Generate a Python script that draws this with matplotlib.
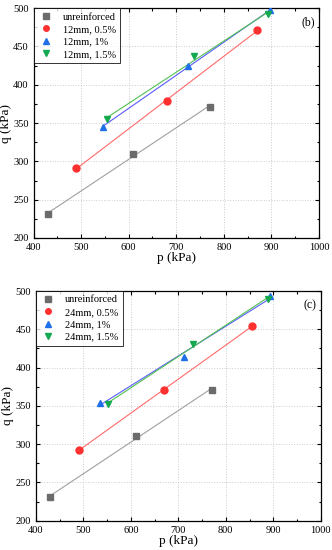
import numpy as np
import matplotlib
matplotlib.use("Agg")
import matplotlib.pyplot as plt
from matplotlib.ticker import MultipleLocator

plt.rcParams['font.family'] = ['Liberation Serif', 'DejaVu Serif']

# panel (b) - 12 mm fibres
p_unr = [430, 610, 770]
q_unr = [231, 310, 371]
p_12_05 = [490, 680, 870]
q_12_05 = [291, 379, 471]
p_12_10 = [545, 725, 897]
q_12_10 = [345, 424, 497]
p_12_15 = [555, 738, 893]
q_12_15 = [355, 437, 492]

# panel (c) - 24 mm fibres
p_24_05 = [490, 670, 855]
q_24_05 = [292, 371, 454]
p_24_10 = [535, 712, 893]
q_24_10 = [354, 414, 493]
p_24_15 = [552, 730, 888]
q_24_15 = [352, 431, 489]

labels_12 = ['unreinforced', '12mm, 0.5%', '12mm, 1%', '12mm, 1.5%']
labels_24 = ['unreinforced', '24mm, 0.5%', '24mm, 1%', '24mm, 1.5%']

markers = ['s', 'o', '^', 'v']
mcolors = ['#6b6b6b', '#ff3030', '#1f6fe8', '#14a850']
lcolors = ['#a0a0a0', '#ff6a6a', '#5a5aff', '#50c050']


def draw_panel(ax, series, labels, tag):
    for (p, q), lab, m, mc, lc in zip(series, labels, markers, mcolors, lcolors):
        p = np.array(p, dtype=float)
        q = np.array(q, dtype=float)
        ax.plot(p, q, ls='none', marker=m, ms=5, color=mc, label=lab, zorder=3)
        # linear fit
        k, b = np.polyfit(p, q, 1)
        xs = np.array([p.min(), p.max()])
        ax.plot(xs, k * xs + b, color=lc, lw=0.8, zorder=2)

    ax.set_xlim(400, 1000)
    ax.set_ylim(200, 500)
    ax.xaxis.set_major_locator(MultipleLocator(100))
    ax.xaxis.set_minor_locator(MultipleLocator(50))
    ax.yaxis.set_major_locator(MultipleLocator(50))
    ax.yaxis.set_minor_locator(MultipleLocator(25))
    ax.tick_params(which='both', direction='in', top=True, right=True,
                   labelsize=7.5, width=0.8)
    ax.tick_params(which='major', length=3)
    ax.tick_params(which='minor', length=1.8)
    ax.grid(True, which='major', ls=':', color='#cccccc', lw=0.7)
    for s in ax.spines.values():
        s.set_linewidth(0.9)
    ax.set_xlabel('p (kPa)', fontsize=9.5, labelpad=0)
    ax.set_ylabel('q (kPa)', fontsize=9.5, labelpad=1)
    ax.text(0.985, 0.965, tag, transform=ax.transAxes, ha='right', va='top',
            fontsize=8.5)
    leg = ax.legend(loc='upper left', fontsize=7.5, frameon=True, fancybox=False,
                    edgecolor='black', borderpad=0.4, labelspacing=0.3,
                    handlelength=1.6, handletextpad=0.8, borderaxespad=0,
                    markerscale=0.8)
    leg.get_frame().set_linewidth(0.7)


fig = plt.figure(figsize=(3.32, 5.5), dpi=100)
ax1 = fig.add_axes([0.101, 0.5673, 0.860, 0.418])
ax2 = fig.add_axes([0.1084, 0.0533, 0.8575, 0.4176])

draw_panel(ax1, [(p_unr, q_unr), (p_12_05, q_12_05), (p_12_10, q_12_10),
                 (p_12_15, q_12_15)], labels_12, '(b)')
draw_panel(ax2, [(p_unr, q_unr), (p_24_05, q_24_05), (p_24_10, q_24_10),
                 (p_24_15, q_24_15)], labels_24, '(c)')

fig.savefig('out.png', dpi=100)
